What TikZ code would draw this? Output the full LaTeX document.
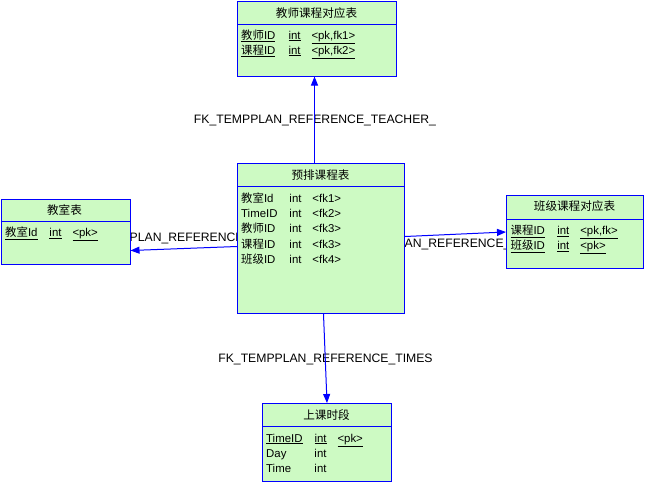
\documentclass[tikz,border=0pt]{standalone}
\usepackage{fontspec}
\setmainfont{Liberation Sans}
\newfontfamily\cjk{Noto Sans CJK SC}
\usetikzlibrary{arrows.meta}
\definecolor{ent}{RGB}{205,250,195}
\definecolor{bl}{RGB}{0,0,255}
\pgfdeclarelayer{bg}
\pgfsetlayers{bg,main}
\newcommand{\frow}[4]{\makebox[#1][l]{#2}\makebox[23pt][l]{#3}#4}
\newcommand{\urow}[4]{\makebox[#1][l]{\underline{#2}}\makebox[23pt][l]{\underline{#3}}\underline{#4}}
\tikzset{
 entity/.style={draw=bl, fill=ent, line width=1pt, inner sep=0pt, anchor=north west, rectangle},
 hdr/.style={font=\cjk\fontsize{11.6}{13}\selectfont, anchor=center, inner sep=0pt},
 fld/.style={font=\fontsize{11.4}{13}\selectfont, anchor=base west, inner sep=0pt},
 sep/.style={draw=bl, line width=1pt},
 rel/.style={draw=bl, line width=1pt, -{Triangle[length=9pt,width=7pt]}},
 lbl/.style={font=\fontsize{12.2}{14}\selectfont, inner sep=0pt},
}
\begin{document}
\begin{tikzpicture}[x=1pt,y=-1pt]
\useasboundingbox (0,0) rectangle (645,482);
% entities
\node[entity, minimum width=159pt, minimum height=75pt] (tch) at (237,0.5) {};
\node[entity, minimum width=167pt, minimum height=150pt] (plan) at (237,163) {};
\node[entity, minimum width=129pt, minimum height=65pt] (room) at (0.5,199) {};
\node[entity, minimum width=137pt, minimum height=73pt] (cls) at (506,195) {};
\node[entity, minimum width=129pt, minimum height=78pt] (times) at (262,403) {};
% header separators
\draw[sep] ([yshift=-24pt]tch.north west) -- ([yshift=-24pt]tch.north east);
\draw[sep] ([yshift=-23pt]plan.north west) -- ([yshift=-23pt]plan.north east);
\draw[sep] ([yshift=-22pt]room.north west) -- ([yshift=-22pt]room.north east);
\draw[sep] ([yshift=-24pt]cls.north west) -- ([yshift=-24pt]cls.north east);
\draw[sep] ([yshift=-23pt]times.north west) -- ([yshift=-23pt]times.north east);
% headers
\node[hdr] (tchH) at (316.5,13) {教师课程对应表};
\node[hdr] (planH) at (320.5,175) {预排课程表};
\node[hdr] (roomH) at (64.5,210) {教室表};
\node[hdr] (clsH) at (574.5,206.5) {班级课程对应表};
\node[hdr] (timesH) at (326.5,415.5) {上课时段};
% fields
\node[fld] (tch1) at (241,39) {\urow{47.3pt}{{\cjk 教师}ID}{int}{<pk,fk1>}};
\node[fld] (tch2) at (241,54) {\urow{47.3pt}{{\cjk 课程}ID}{int}{<pk,fk2>}};
\node[fld] (plan1) at (241,202) {\frow{48.3pt}{{\cjk 教室}Id}{int}{<fk1>}};
\node[fld] (plan2) at (241,217) {\frow{48.3pt}{TimeID}{int}{<fk2>}};
\node[fld] (plan3) at (241,232.5) {\frow{48.3pt}{{\cjk 教师}ID}{int}{<fk3>}};
\node[fld] (plan4) at (241,248) {\frow{48.3pt}{{\cjk 课程}ID}{int}{<fk3>}};
\node[fld] (plan5) at (241,263.5) {\frow{48.3pt}{{\cjk 班级}ID}{int}{<fk4>}};
\node[fld] (room1) at (5,236.5) {\urow{44.3pt}{{\cjk 教室}Id}{int}{<pk>}};
\node[fld] (cls1) at (510.5,234.5) {\urow{46.6pt}{{\cjk 课程}ID}{int}{<pk,fk>}};
\node[fld] (cls2) at (510.5,249.5) {\urow{46.6pt}{{\cjk 班级}ID}{int}{<pk>}};
\node[fld] (times1) at (266,442) {\urow{48.3pt}{TimeID}{int}{<pk>}};
\node[fld] (times2) at (266,457) {\frow{48.3pt}{Day}{int}{}};
\node[fld] (times3) at (266,472) {\frow{48.3pt}{Time}{int}{}};
% labels and connectors behind the entities
\begin{pgfonlayer}{bg}
\node[lbl, anchor=base] (lT) at (315,123) {FK\_TEMPPLAN\_REFERENCE\_TEACHER\_};
\node[lbl, anchor=base] (lB) at (325.5,362) {FK\_TEMPPLAN\_REFERENCE\_TIMES};
\node[lbl, anchor=base west] (lL) at (129.5,241) {PLAN\_REFERENCE};
\node[lbl, anchor=base west] (lR) at (404.5,247.5) {AN\_REFERENCE\_};
\draw[rel] ([xshift=-6.5pt]plan.north) -- ([xshift=-2.5pt]tch.south);
\draw[rel] ([xshift=2.5pt]plan.south) -- (times.north);
\draw[rel] ([yshift=-8pt]plan.west) -- ([yshift=-18.5pt]room.east);
\draw[rel] ([yshift=2pt]plan.east) -- (cls.west);
\end{pgfonlayer}
\end{tikzpicture}
\end{document}
